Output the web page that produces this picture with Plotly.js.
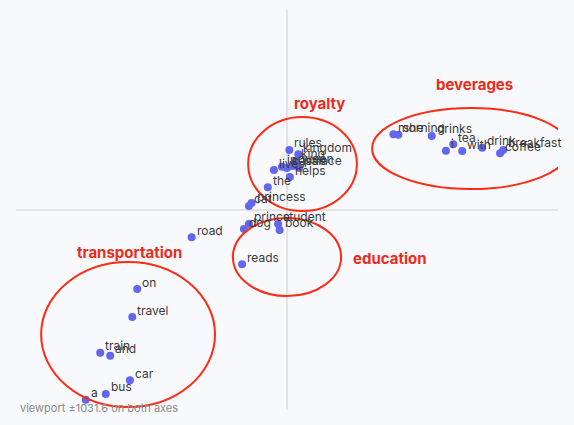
<!DOCTYPE html>
<html>
<head>
<meta charset="utf-8">
<script src="https://cdn.plot.ly/plotly-3.0.1.min.js"></script>
<style>html,body{margin:0;padding:0;background:#f8f9fd;}#chart{width:574px;height:425px;}</style>
</head>
<body>
<div id="chart"></div>
<script>
// Word embedding projection (2D)
const words = ["on","travel","train","and","car","bus","a","road","reads","dog","prince","student","book","cat","princess","the",
  "rules","kingdom","king","queen","lives","in","castle","palace","helps",
  "morning","she","drinks","i","tea","with","drink","coffee","breakfast"];
const xs = [-570,-589,-711,-673,-598,-690,-766,-363,-171,-164,-145,-34,-28,-145,-135,-73,
  9,43,34,23,-50,-19,0,46,11,
  405,424,551,605,633,667,743,811,823];
const ys = [-408,-552,-736,-752,-878,-949,-979,-141,-280,-98,-72,-72,-103,21,36,117,
  310,287,253,227,206,223,217,217,170,
  391,388,382,306,339,304,321,293,310];

const groupLabels = ["royalty","beverages","education","transportation"];
const groupLabelX = [122,712,392,-601];
const groupLabelY = [547,645,-248,-217];
const ellX0 = [-148,324,-206,-936];
const ellX1 = [266,1077,206,-274];
const ellY0 = [-5,108,-444,-1016];
const ellY1 = [480,526,-41,-268];

const R = 1031.6;

const trace = {
  x: xs, y: ys, text: words,
  type: "scatter", mode: "markers",
  marker: {size: 8, color: "#6366f1"},
  hoverinfo: "text", cliponaxis: false
};

const shapes = groupLabels.map((g, i) => ({
  type: "circle", xref: "x", yref: "y",
  x0: ellX0[i], x1: ellX1[i], y0: ellY0[i], y1: ellY1[i],
  line: {color: "#ff2a12", width: 2}, layer: "above"
}));

// word labels, placed up-right of each point
const annotations = words.map((w, i) => ({
  x: xs[i], y: ys[i], xref: "x", yref: "y",
  text: w, showarrow: false, xanchor: "left", yanchor: "middle",
  xshift: 4, yshift: 7, borderpad: 0,
  font: {family: "Inter, sans-serif", size: 12, color: "#3a3a3a"}
}));
groupLabels.forEach((g, i) => annotations.push({
  x: groupLabelX[i], y: groupLabelY[i], xref: "x", yref: "y",
  text: "<b>" + g + "</b>", showarrow: false,
  font: {family: "Inter, sans-serif", size: 15, color: "#ee2a1a"}
}));
annotations.push({
  xref: "paper", yref: "paper", x: 0.003, y: 0.005, xanchor: "left", yanchor: "middle",
  text: "viewport \u00b1" + R + " on both axes", showarrow: false,
  font: {family: "Inter, sans-serif", size: 11, color: "#8a8a8a"}
});

const layout = {
  width: 574, height: 425,
  margin: {l: 16, r: 16, t: 10, b: 15},
  paper_bgcolor: "#f8f9fd", plot_bgcolor: "#f8f9fd",
  showlegend: false,
  xaxis: {range: [-R, R], showgrid: false, zeroline: true, zerolinecolor: "#e4e4e8", zerolinewidth: 2,
          showticklabels: false, ticks: "", showline: false, fixedrange: true},
  yaxis: {range: [-R, R], showgrid: false, zeroline: true, zerolinecolor: "#e4e4e8", zerolinewidth: 2,
          showticklabels: false, ticks: "", showline: false, fixedrange: true},
  shapes: shapes,
  annotations: annotations,
  font: {family: "Inter, sans-serif"}
};

Plotly.newPlot("chart", [trace], layout, {displayModeBar: false, staticPlot: true});
</script>
</body>
</html>
